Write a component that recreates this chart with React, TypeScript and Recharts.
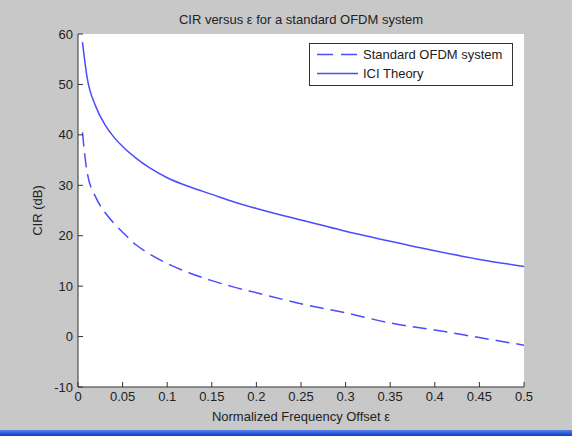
import React from 'react';
import { LineChart, Line, XAxis, YAxis, CartesianGrid } from 'recharts';

const epsilon = [0.005, 0.01, 0.02, 0.03, 0.04, 0.05, 0.065, 0.08, 0.1, 0.125, 0.15, 0.175, 0.2, 0.25, 0.3, 0.35, 0.4, 0.45, 0.5];
const standardOfdm = [40.5, 32.8, 27.6, 24.7, 22.5, 20.7, 18.2, 16.4, 14.5, 12.6, 11.1, 9.8, 8.7, 6.5, 4.7, 2.7, 1.3, -0.2, -1.7];
const iciTheory = [58.4, 51.6, 45.6, 42.1, 39.6, 37.7, 35.4, 33.5, 31.5, 29.7, 28.2, 26.7, 25.4, 23.1, 20.9, 18.9, 17.0, 15.3, 13.9];
const xTicks = [0, 0.05, 0.1, 0.15, 0.2, 0.25, 0.3, 0.35, 0.4, 0.45, 0.5];
const yTicks = [-10, 0, 10, 20, 30, 40, 50, 60];
const seriesNames = ['Standard OFDM system', 'ICI Theory'];
const title = 'CIR versus \u03b5 for a standard OFDM system';
const xLabel = 'Normalized Frequency Offset \u03b5';
const yLabel = 'CIR (dB)';

const data = epsilon.map((e, i) => ({ eps: e, std: standardOfdm[i], ici: iciTheory[i] }));

const FONT = '"Liberation Sans", Arial, sans-serif';
const LINE_COLOR = '#4b4bff';
const AXIS_COLOR = '#333333';
const DASH = '14 7';

const fmtX = (v: number) => String(v);

const LegendBox = () => (
  <svg width={205} height={44} style={{ display: 'block' }}>
    <rect x={0.5} y={0.5} width={203} height={42} fill="#ffffff" stroke={AXIS_COLOR} strokeWidth={1} />
    <line x1={8} x2={49} y1={11.5} y2={11.5} stroke={LINE_COLOR} strokeWidth={1.5} strokeDasharray="16 8" />
    <text x={54} y={11.5} dy="0.35em" fontSize={13} fontFamily={FONT} fill="#222">{seriesNames[0]}</text>
    <line x1={8} x2={49} y1={30.5} y2={30.5} stroke={LINE_COLOR} strokeWidth={1.5} />
    <text x={54} y={30.5} dy="0.35em" fontSize={13} fontFamily={FONT} fill="#222">{seriesNames[1]}</text>
  </svg>
);

export default function App() {
  return (
    <div style={{ position: 'fixed', left: 0, top: 0, width: 572, height: 436, background: '#c8c8c8', overflow: 'hidden', fontFamily: FONT }}>
      <div style={{ position: 'absolute', left: 0, top: 13, width: 602, textAlign: 'center', fontSize: 13, color: '#222', lineHeight: '14px' }}>{title}</div>
      <LineChart width={572} height={436} data={data} margin={{ top: 34, right: 48, bottom: 19, left: 18 }}>
        <CartesianGrid horizontal={false} vertical={false} fill="#ffffff" />
        <XAxis
          dataKey="eps"
          type="number"
          domain={[0, 0.5]}
          ticks={xTicks}
          tickFormatter={fmtX}
          height={30}
          stroke={AXIS_COLOR}
          tickSize={-5}
          tickMargin={10}
          tick={{ fill: '#222', fontSize: 13, fontFamily: FONT }}
          allowDataOverflow
          label={{ value: xLabel, position: 'insideBottom', offset: -4, fill: '#222', fontSize: 13, fontFamily: FONT }}
        />
        <XAxis
          xAxisId="top"
          orientation="top"
          dataKey="eps"
          type="number"
          domain={[0, 0.5]}
          ticks={xTicks}
          height={0}
          stroke={AXIS_COLOR}
          tickSize={-5}
          tickFormatter={() => ''}
        />
        <YAxis
          type="number"
          domain={[-10, 60]}
          ticks={yTicks}
          width={60}
          stroke={AXIS_COLOR}
          tickSize={-5}
          tickMargin={10}
          tick={{ fill: '#222', fontSize: 13, fontFamily: FONT }}
          allowDataOverflow
          label={{ value: yLabel, angle: -90, position: 'insideLeft', offset: 19, fill: '#222', fontSize: 13, fontFamily: FONT, style: { textAnchor: 'middle' } }}
        />
        <YAxis
          yAxisId="right"
          orientation="right"
          type="number"
          domain={[-10, 60]}
          ticks={yTicks}
          width={0}
          stroke={AXIS_COLOR}
          tickSize={-5}
          tickFormatter={() => ''}
        />
        <Line
          name={seriesNames[0]}
          dataKey="std"
          type="monotone"
          stroke={LINE_COLOR}
          strokeWidth={1.5}
          strokeDasharray={DASH}
          dot={false}
          isAnimationActive={false}
        />
        <Line
          name={seriesNames[1]}
          dataKey="ici"
          type="monotone"
          stroke={LINE_COLOR}
          strokeWidth={1.5}
          dot={false}
          isAnimationActive={false}
        />
      </LineChart>
      <div style={{ position: 'absolute', left: 309, top: 43, width: 205, height: 44 }}>
        <LegendBox />
      </div>
      <div style={{ position: 'absolute', left: 0, top: 430, width: 572, height: 6, background: 'linear-gradient(#5a82e6, #0a3cc8)' }} />
    </div>
  );
}
